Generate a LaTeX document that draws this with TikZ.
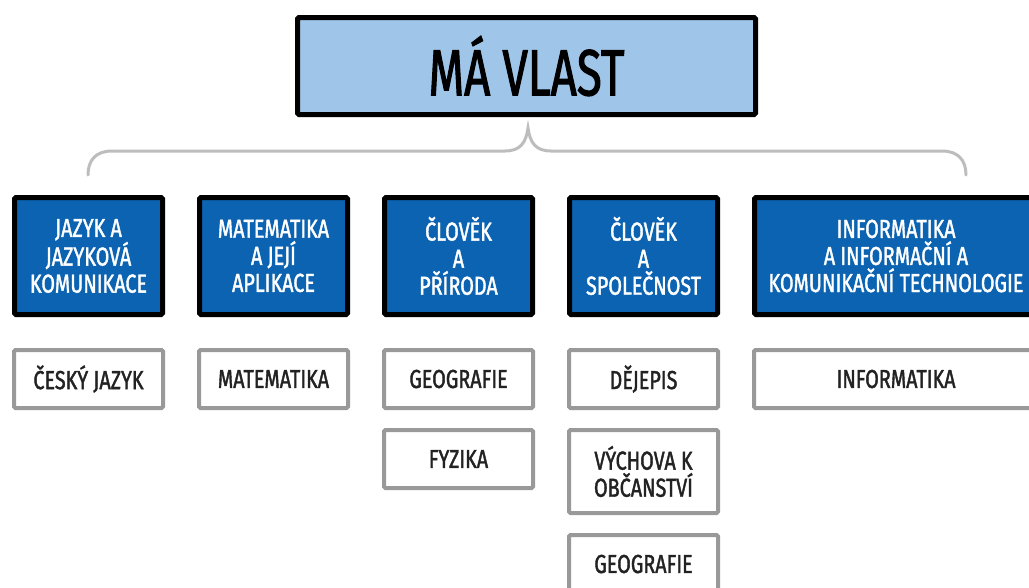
\documentclass[tikz,border=0pt]{standalone}
\usepackage{fontspec}
\setmainfont[FakeStretch=0.76, FakeBold=1.5]{Fira Sans}
\newfontfamily\titlefont[FakeStretch=0.7, FakeBold=1.5]{Fira Sans}
\definecolor{titlefill}{HTML}{9FC5E8}
\definecolor{areafill}{HTML}{0B63B2}
\definecolor{subborder}{HTML}{999999}
\definecolor{bracecol}{HTML}{BDBDBD}
\definecolor{subtext}{HTML}{222222}
\tikzset{
  titlebox/.style={draw=black, line width=3.75pt, fill=titlefill, rounded corners=1.1pt,
    minimum width=343.5pt, minimum height=72.75pt, inner sep=0pt,
    font=\titlefont\fontsize{49}{52}\selectfont, text=black},
  areabox/.style={draw=black, line width=3.75pt, fill=areafill, rounded corners=1.1pt,
    minimum width=111pt, minimum height=87.75pt, inner sep=0pt, align=center,
    font=\fontsize{19.5}{20.3}\selectfont, text=white},
  subbox/.style={draw=subborder, line width=3pt, fill=white, rounded corners=1.1pt,
    minimum width=111.75pt, minimum height=43.5pt, inner sep=0pt, align=center,
    font=\fontsize{19.5}{20.3}\selectfont, text=subtext},
  brace/.style={draw=bracecol, line width=2.25pt, line cap=round}
}
\begin{document}
\begin{tikzpicture}[x=0.75pt, y=-0.75pt]
\clip (0,0) rectangle (1029,587);
\fill[white] (0,0) rectangle (1029,587);
% title
\node[titlebox] (title) at (526.5,66) {MÁ VLAST};
% brace
\coordinate (bl) at (88,175);
\coordinate (br) at (966,175);
\coordinate (bt) at (528,128);
\draw[brace] (bl) .. controls (88,160) and (96,151) .. (112,151)
  -- (505,151) .. controls (520,151) and (526,143) .. (bt)
  .. controls (530,143) and (536,151) .. (551,151)
  -- (942,151) .. controls (958,151) and (966,160) .. (br);
% area boxes
\node[areabox] (a1) at (88.5,256) {JAZYK A\\JAZYKOVÁ\\KOMUNIKACE};
\node[areabox] (a2) at (273.5,256) {MATEMATIKA\\A JEJÍ\\APLIKACE};
\node[areabox] (a3) at (458.5,256) {ČLOVĚK\\A\\PŘÍRODA};
\node[areabox] (a4) at (643.5,256) {ČLOVĚK\\A\\SPOLEČNOST};
\node[areabox, minimum width=212.25pt] (a5) at (896,256) {INFORMATIKA\\A INFORMAČNÍ A\\KOMUNIKAČNÍ TECHNOLOGIE};
% subject boxes
\node[subbox] (s1) at (88.5,379) {ČESKÝ JAZYK};
\node[subbox] (s2) at (273.5,379) {MATEMATIKA};
\node[subbox] (s3) at (458.5,379) {GEOGRAFIE};
\node[subbox] (s3b) at (458.5,459) {FYZIKA};
\node[subbox] (s4) at (643.5,379) {DĚJEPIS};
\node[subbox, minimum height=62.25pt] (s4b) at (643.5,471.5) {VÝCHOVA K\\OBČANSTVÍ};
\node[subbox] (s4c) at (643.5,564) {GEOGRAFIE};
\node[subbox, minimum width=213pt] (s5) at (896,379) {INFORMATIKA};
\end{tikzpicture}
\end{document}
